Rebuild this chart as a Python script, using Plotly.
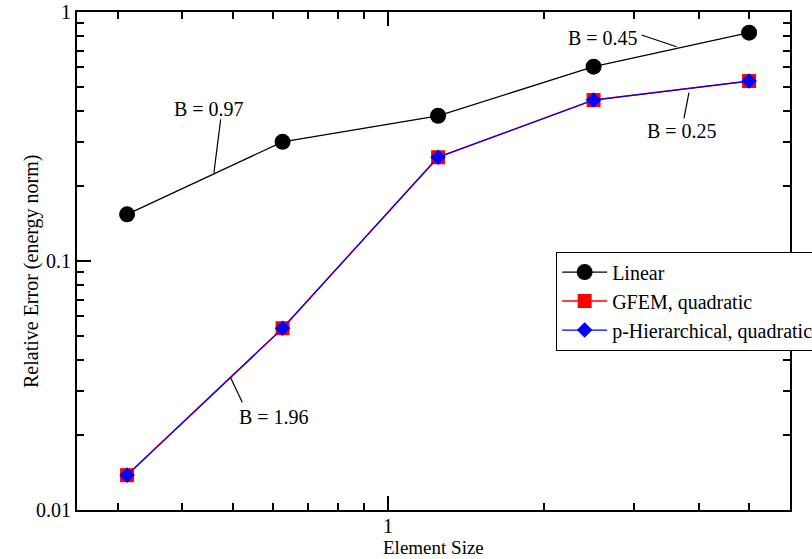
import plotly.graph_objects as go

# Convergence data: relative error in energy norm vs element size
element_size = [0.3125, 0.625, 1.25, 2.5, 5.0]
err_linear = [0.154, 0.301, 0.383, 0.603, 0.826]
err_gfem_quad = [0.0138, 0.0537, 0.261, 0.443, 0.528]
err_phier_quad = [0.0138, 0.0537, 0.261, 0.443, 0.528]

# Slope labels: text, label position (log10 x, log10 y), leader line (x0, y0, x1, y1)
slope_labels = ["B = 0.97", "B = 0.45", "B = 0.25", "B = 1.96"]
label_pos = [(-0.3466, -0.3896), (0.4159, -0.1032), (0.5682, -0.4779), (-0.2208, -1.6265)]
leader_lines = [
    (0.4743, 0.3707, 0.4603, 0.2262),
    (3.096, 0.8085, 3.619, 0.7254),
    (3.824, 0.4741, 3.740, 0.3741),
    (0.4958, 0.0340, 0.5222, 0.02707),
]

FONT = "Times New Roman, Liberation Serif, serif"
FS = 20

fig = go.Figure()
fig.add_trace(go.Scatter(
    x=element_size, y=err_linear, name="Linear", mode="lines+markers",
    line=dict(color="black", width=1.3),
    marker=dict(symbol="circle", size=16, color="black"),
))
fig.add_trace(go.Scatter(
    x=element_size, y=err_gfem_quad, name="GFEM, quadratic", mode="lines+markers",
    line=dict(color="red", width=1.5),
    marker=dict(symbol="square", size=14, color="red"),
))
fig.add_trace(go.Scatter(
    x=element_size, y=err_phier_quad, name="p-Hierarchical, quadratic", mode="lines+markers",
    line=dict(color="blue", width=1.2),
    marker=dict(symbol="diamond", size=12, color="blue"),
))

for text, (lx, ly) in zip(slope_labels, label_pos):
    fig.add_annotation(x=lx, y=ly, xref="x", yref="y", text=text, showarrow=False,
                       font=dict(family=FONT, size=FS, color="black"))
for (x0, y0, x1, y1) in leader_lines:
    fig.add_shape(type="line", xref="x", yref="y", x0=x0, y0=y0, x1=x1, y1=y1,
                  line=dict(color="black", width=1.2))

# Axis titles as annotations so they sit exactly where wanted
fig.add_annotation(x=-0.082, y=0.478, xref="paper", yref="paper",
                   text="Relative Error (energy norm)", textangle=-90, showarrow=False,
                   font=dict(family=FONT, size=FS, color="black"))
fig.add_annotation(x=0.5, y=-0.0763, xref="paper", yref="paper", yanchor="middle",
                   text="Element Size", showarrow=False, borderpad=0,
                   font=dict(family=FONT, size=19, color="black"))

axis_common = dict(
    type="log", showgrid=False, zeroline=False,
    showline=True, linecolor="black", linewidth=2, mirror="allticks",
    ticks="inside", ticklen=14, tickwidth=1.5, tickcolor="black", dtick=1,
    minor=dict(ticks="inside", ticklen=7, tickwidth=1.5, tickcolor="black",
               dtick="D1", showgrid=False),
    tickfont=dict(family=FONT, size=FS, color="black"),
)

fig.update_xaxes(range=[-0.60206, 0.778151], ticklabelstandoff=-3, **axis_common)
fig.update_yaxes(range=[-2, 0], **axis_common)

fig.update_layout(
    width=812, height=559,
    margin=dict(l=77, r=22, t=12, b=49, autoexpand=False),
    paper_bgcolor="white", plot_bgcolor="white",
    font=dict(family=FONT, size=FS, color="black"),
    legend=dict(x=0.672, y=0.519, xanchor="left", yanchor="top",
                bgcolor="white", bordercolor="black", borderwidth=1,
                font=dict(family=FONT, size=FS, color="black"),
                itemwidth=45, tracegroupgap=0),
)

fig.write_html("out.html")
